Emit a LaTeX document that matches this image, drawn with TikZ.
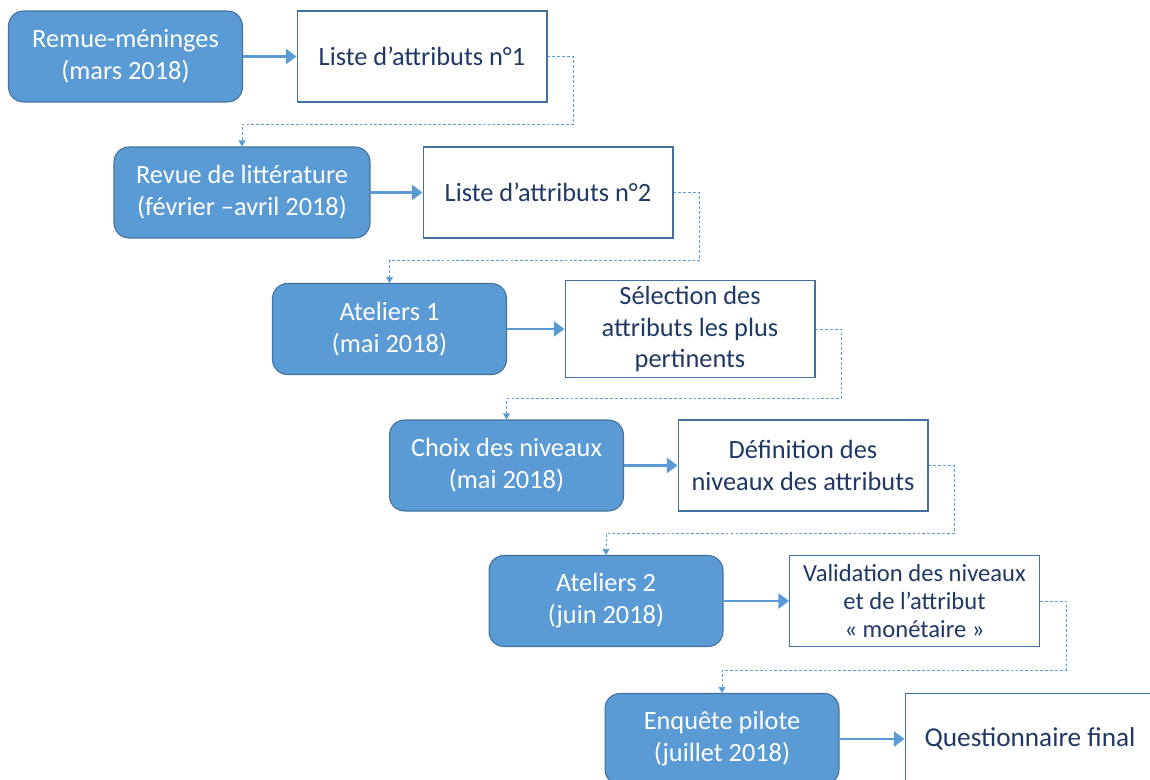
\documentclass[tikz,border=0pt]{standalone}
\usepackage{fontspec}
\setmainfont{Carlito}
\usepackage{tikz}
\usetikzlibrary{arrows.meta,positioning,calc}
\definecolor{StageFill}{RGB}{91,155,213}
\definecolor{StageEdge}{RGB}{65,113,156}
\definecolor{ResultText}{RGB}{31,56,100}
\definecolor{LinkColor}{RGB}{91,155,213}
\tikzset{
  stage/.style={draw=StageEdge, fill=StageFill, rounded corners=0.3cm, line width=0.6pt,
    text=white, align=center, minimum width=4.68cm, minimum height=1.82cm,
    font=\fontsize{15}{18.2}\selectfont},
  result/.style={draw=StageEdge, fill=white, line width=0.6pt, text=ResultText,
    align=center, minimum width=5cm, minimum height=1.82cm,
    font=\fontsize{15}{18}\selectfont},
  flow/.style={-{Triangle[length=6pt,width=8.5pt]}, line width=1.7pt, LinkColor},
  link/.style={-{Triangle[length=3.5pt,width=4pt]}, line width=0.5pt, LinkColor,
    dash pattern=on 1.6pt off 1.2pt}
}
\begin{document}
\begin{tikzpicture}[x=0.02cm, y=-0.02cm]
  \clip (0,0) rectangle (1150,780);

  % etapes (gauche) et resultats (droite)
  \node[stage] (b1) at (125.5,56.5) {Remue-méninges\\(mars 2018)};
  \node[result] (w1) at (422,56.5) {Liste d’attributs n°1};

  \node[stage, minimum width=5.12cm] (b2) at (242,192.5) {Revue de littérature\\(février –avril 2018)};
  \node[result] (w2) at (548,192.5) {Liste d’attributs n°2};

  \node[stage] (b3) at (389.5,329) {Ateliers 1\\(mai 2018)};
  \node[result] (w3) at (690,329) {Sélection des\\attributs les plus\\pertinents};

  \node[stage] (b4) at (506.5,465.5) {Choix des niveaux\\(mai 2018)};
  \node[result] (w4) at (803,465.5) {Définition des\\niveaux des attributs};

  \node[stage] (b5) at (606,601) {Ateliers 2\\(juin 2018)};
  \node[result, font=\fontsize{14}{16}\selectfont] (w5) at (914.5,601) {Validation des niveaux\\et de l’attribut\\«~monétaire~»};

  \node[stage] (b6) at (722,739) {Enquête pilote\\(juillet 2018)};
  \node[result, font=\fontsize{15.5}{18}\selectfont] (w6) at (1030,739) {Questionnaire final};

  % fleches pleines
  \foreach \i in {1,...,6}
    \draw[flow] (b\i.east) -- (w\i.west);

  % liens pointilles vers l'etape suivante
  \foreach \i/\j in {1/2,2/3,3/4,4/5,5/6}
    \draw[link] (w\i.east) -- ++(26,0) |- ($(w\i.south)!0.5!(b\j.north)$) -| (b\j.north);
\end{tikzpicture}
\end{document}
